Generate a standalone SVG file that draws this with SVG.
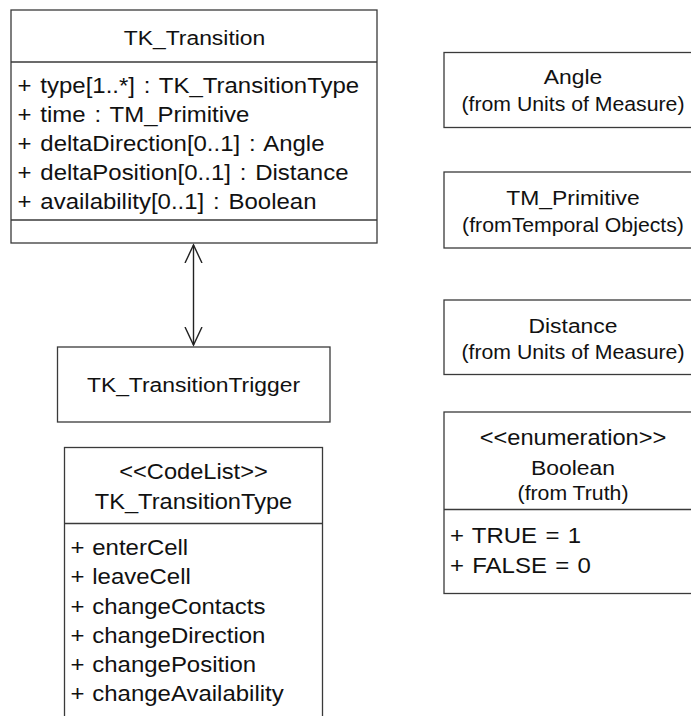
<svg xmlns="http://www.w3.org/2000/svg" width="691" height="716" viewBox="0 0 691 716">
  <style>
    .box { fill: #ffffff; stroke: #3a3a3a; stroke-width: 1.3; }
    .sep { stroke: #3a3a3a; stroke-width: 1.3; fill: none; }
    .t { font-family: "Liberation Sans", Arial, Helvetica, sans-serif; font-size: 21px; fill: #111111; }
    .h { font-family: "Liberation Sans", Arial, Helvetica, sans-serif; font-size: 21.7px; fill: #111111; }
    .a { font-family: "Liberation Sans", Arial, Helvetica, sans-serif; font-size: 22px; fill: #111111; }
    .s { font-family: "Liberation Sans", Arial, Helvetica, sans-serif; font-size: 19.5px; fill: #111111; }
    .c { text-anchor: middle; }
    .link { stroke: #222222; stroke-width: 1.4; fill: none; }
  </style>
  <defs>
    <marker id="open" viewBox="0 0 20 20" refX="18" refY="10" markerWidth="20" markerHeight="20" markerUnits="userSpaceOnUse" orient="auto-start-reverse">
      <path d="M0,1.5 L18,10 L0,18.5" fill="none" stroke="#222222" stroke-width="1.4"/>
    </marker>
  </defs>
  <rect width="691" height="716" fill="#ffffff"/>

  <!-- association between TK_Transition and TK_TransitionTrigger -->
  <g id="connectors">
    <line class="link" x1="193.5" y1="245" x2="193.5" y2="345" marker-start="url(#open)" marker-end="url(#open)"/>
  </g>

  <g id="tk-transition">
    <rect class="box" x="11" y="10" width="366" height="233"/>
    <line class="sep" x1="11" y1="62" x2="377" y2="62"/>
    <line class="sep" x1="11" y1="220" x2="377" y2="220"/>
    <text class="t c" transform="matrix(1.09 0 0 1 194.5 0)" y="45">TK_Transition</text>
    <text class="a" word-spacing="2" transform="matrix(1.09 0 0 1 17.5 0)" y="93">+ type[1..*] : TK_TransitionType</text>
    <text class="a" word-spacing="2" transform="matrix(1.09 0 0 1 17.5 0)" y="122">+ time : TM_Primitive</text>
    <text class="a" word-spacing="2" transform="matrix(1.09 0 0 1 17.5 0)" y="151">+ deltaDirection[0..1] : Angle</text>
    <text class="a" word-spacing="2" transform="matrix(1.09 0 0 1 17.5 0)" y="180">+ deltaPosition[0..1] : Distance</text>
    <text class="a" word-spacing="2" transform="matrix(1.09 0 0 1 17.5 0)" y="209">+ availability[0..1] : Boolean</text>
  </g>

  <g id="tk-transition-trigger">
    <rect class="box" x="57.5" y="347" width="272.5" height="75"/>
    <text class="t c" transform="matrix(1.09 0 0 1 193.5 0)" y="392">TK_TransitionTrigger</text>
  </g>

  <g id="tk-transition-type">
    <rect class="box" x="64.5" y="447.5" width="258" height="280"/>
    <line class="sep" x1="64.5" y1="523.5" x2="322.5" y2="523.5"/>
    <text class="h c" transform="matrix(1.09 0 0 1 193.5 0)" y="479">&lt;&lt;CodeList&gt;&gt;</text>
    <text class="h c" transform="matrix(1.09 0 0 1 193.5 0)" y="509">TK_TransitionType</text>
    <text class="a" word-spacing="1" transform="matrix(1.09 0 0 1 70.5 0)" y="555">+ enterCell</text>
    <text class="a" word-spacing="1" transform="matrix(1.09 0 0 1 70.5 0)" y="584.5">+ leaveCell</text>
    <text class="a" word-spacing="1" transform="matrix(1.09 0 0 1 70.5 0)" y="614">+ changeContacts</text>
    <text class="a" word-spacing="1" transform="matrix(1.09 0 0 1 70.5 0)" y="643">+ changeDirection</text>
    <text class="a" word-spacing="1" transform="matrix(1.09 0 0 1 70.5 0)" y="672.5">+ changePosition</text>
    <text class="a" word-spacing="1" transform="matrix(1.09 0 0 1 70.5 0)" y="701">+ changeAvailability</text>
  </g>

  <g id="angle">
    <rect class="box" x="444" y="52.5" width="258" height="75"/>
    <text class="t c" transform="matrix(1.09 0 0 1 573 0)" y="84">Angle</text>
    <text class="s c" transform="matrix(1.09 0 0 1 573 0)" y="111.5">(from Units of Measure)</text>
  </g>

  <g id="tm-primitive">
    <rect class="box" x="444" y="172" width="258" height="76"/>
    <text class="t c" transform="matrix(1.09 0 0 1 573 0)" y="205">TM_Primitive</text>
    <text class="s c" transform="matrix(1.09 0 0 1 573 0)" y="232">(fromTemporal Objects)</text>
  </g>

  <g id="distance">
    <rect class="box" x="444" y="300" width="258" height="74.5"/>
    <text class="t c" transform="matrix(1.09 0 0 1 573 0)" y="333">Distance</text>
    <text class="s c" transform="matrix(1.09 0 0 1 573 0)" y="359.5">(from Units of Measure)</text>
  </g>

  <g id="boolean">
    <rect class="box" x="444" y="412" width="258" height="181.5"/>
    <line class="sep" x1="444" y1="509.5" x2="702" y2="509.5"/>
    <text class="h c" transform="matrix(1.09 0 0 1 573 0)" y="445">&lt;&lt;enumeration&gt;&gt;</text>
    <text class="t c" transform="matrix(1.09 0 0 1 573 0)" y="475">Boolean</text>
    <text class="s c" transform="matrix(1.09 0 0 1 573 0)" y="500">(from Truth)</text>
    <text class="a" word-spacing="1.5" transform="matrix(1.09 0 0 1 450 0)" y="543.5">+ TRUE = 1</text>
    <text class="a" word-spacing="1.5" transform="matrix(1.09 0 0 1 450 0)" y="573">+ FALSE = 0</text>
  </g>
</svg>
